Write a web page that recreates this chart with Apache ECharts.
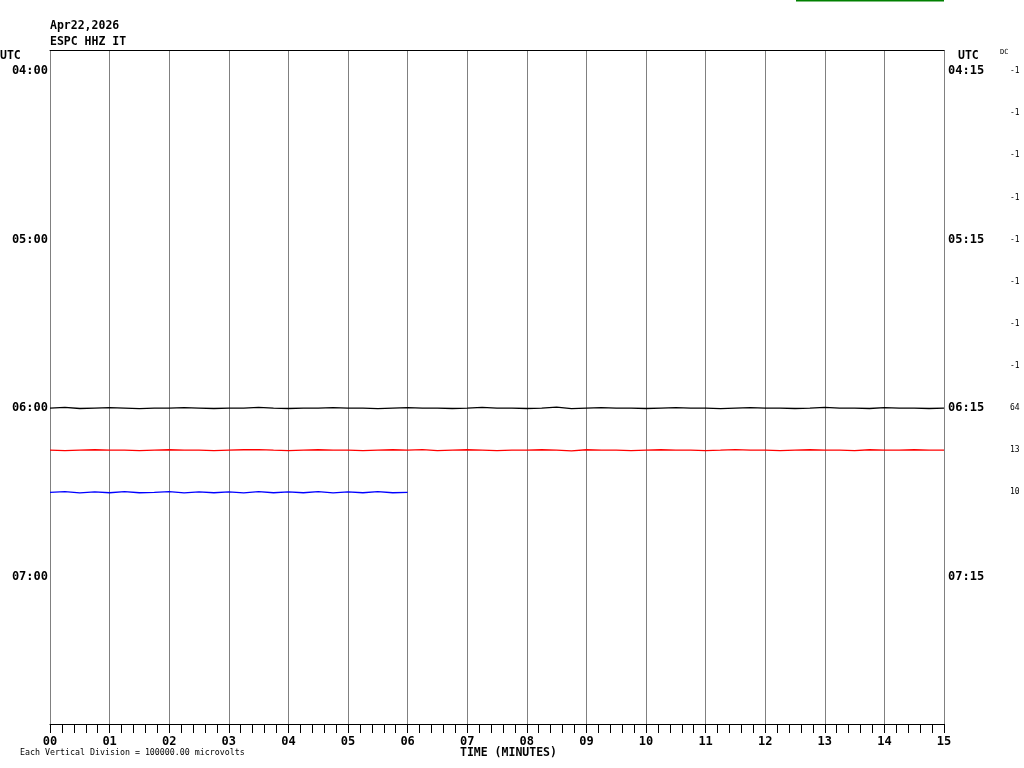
<!DOCTYPE html>
<html>
<head>
<meta charset="utf-8">
<script src="https://cdn.jsdelivr.net/npm/echarts@6/dist/echarts.min.js"></script>
<style>
html,body{margin:0;padding:0;background:#fff;}
#chart{width:1024px;height:768px;}
</style>
</head>
<body>
<div id="chart"></div>
<script>
// ---- data ----
var stationDate = 'Apr22,2026';
var stationName = 'ESPC HHZ IT';
var minuteLabels = ['00','01','02','03','04','05','06','07','08','09','10','11','12','13','14','15'];
var leftRowLabels  = ['04:00','','','','05:00','','','','06:00','','','','07:00','','',''];
var rightRowLabels = ['04:15','','','','05:15','','','','06:15','','','','07:15','','',''];
var dcLabels = ['-1','-1','-1','-1','-1','-1','-1','-1','64','13','10','','','','',''];
var microvoltsPerDivision = 100000;
var sampleStepMinutes = 0.25;
// trace amplitudes (microvolts), one sample every 15 s
var traceRow06_00 = [
  0,1500,-1000,0, 1000,0,-1500,0, 0,1000,0,-1000, 0,0,1500,0,
  -1000,0,0,1000, 0,0,-1500,0, 1000,0,0,-1000, 0,1500,0,0,
  -1000,0,2000,-1500, 0,1000,0,0, -1000,0,1000,0, 0,-1500,0,1000,
  0,0,-1000,0, 1500,0,0,-1000, 1000,0,0,-1000, 0
];
var traceRow06_15 = [
  0,-1000,0,1000, 0,0,-1000,0, 1000,0,0,-1000, 0,1000,1500,0,
  -1000,0,1000,0, 0,-1000,0,1000, 0,1500,-1000,0, 1000,0,-1000,0,
  0,1000,0,-1500, 1000,0,0,-1000, 0,1000,0,0, -1000,0,1500,0,
  0,-1000,0,1000, 0,0,-1000,1000, 0,0,1000,0, 0
];
var traceRow06_30 = [
  0,1500,-1500,1000, -1000,1500,-1000,0, 1500,-1500,1000,-1000,
  1000,-1500,1500,-1000, 1000,-1000,1500,-1500, 1000,-1000,1500,-1000, 0
];
var traces = [
  {row: 8,  color: '#000000', values: traceRow06_00},
  {row: 9,  color: '#ff0000', values: traceRow06_15},
  {row: 10, color: '#0000ff', values: traceRow06_30}
];

var chart = echarts.init(document.getElementById('chart'), null, {renderer: 'canvas'});

var labelFont = {fontFamily: 'DejaVu Sans Mono', fontWeight: 'bold', fontSize: 12, color: '#000'};

var series = traces.map(function (tr) {
  return {
    type: 'line',
    xAxisIndex: 0,
    yAxisIndex: 3,
    showSymbol: false,
    symbol: 'none',
    silent: true,
    animation: false,
    lineStyle: {color: tr.color, width: 1.3},
    data: tr.values.map(function (v, i) {
      return [i * sampleStepMinutes, tr.row - v / microvoltsPerDivision];
    })
  };
});

chart.setOption({
  animation: false,
  backgroundColor: '#fff',
  grid: {left: 50, right: 80, top: 50, bottom: 44, containLabel: false},
  xAxis: [
    {
      type: 'value', min: 0, max: 15, interval: 1, position: 'bottom',
      axisLine: {show: true, onZero: false, lineStyle: {color: '#000', width: 1}},
      axisTick: {show: true, length: 9, lineStyle: {color: '#000', width: 1}},
      minorTick: {show: true, splitNumber: 5, length: 9, lineStyle: {color: '#000', width: 1}},
      splitLine: {show: true, lineStyle: {color: '#808080', width: 1}},
      minorSplitLine: {show: false},
      axisLabel: Object.assign({margin: 12, formatter: function (v) { return minuteLabels[Math.round(v)]; }}, labelFont)
    },
    {
      type: 'value', min: 0, max: 15, position: 'top',
      axisLine: {show: true, onZero: false, lineStyle: {color: '#000', width: 1}},
      axisTick: {show: false}, axisLabel: {show: false}, splitLine: {show: false}
    }
  ],
  yAxis: [
    {
      type: 'category', inverse: true, position: 'left', data: leftRowLabels,
      axisLine: {show: false, onZero: false}, axisTick: {show: false}, splitLine: {show: false},
      axisLabel: Object.assign({interval: 0, margin: 2, padding: [4, 0, 0, 0]}, labelFont)
    },
    {
      type: 'category', inverse: true, position: 'right', data: rightRowLabels,
      axisLine: {show: false, onZero: false}, axisTick: {show: false}, splitLine: {show: false},
      axisLabel: Object.assign({interval: 0, margin: 4, padding: [4, 0, 0, 0]}, labelFont)
    },
    {
      type: 'category', inverse: true, position: 'right', offset: 62, data: dcLabels,
      axisLine: {show: false, onZero: false}, axisTick: {show: false}, splitLine: {show: false},
      axisLabel: {interval: 0, margin: 4, padding: [3, 0, 0, 0], fontFamily: 'DejaVu Sans Mono', fontSize: 8, color: '#000'}
    },
    {
      type: 'value', inverse: true, min: -0.5, max: 15.5, show: false,
      axisLine: {onZero: false},
      splitLine: {show: false}
    }
  ],
  graphic: [
    {type: 'text', left: 50, top: 20, style: {text: stationDate, font: 'bold 11.5px "DejaVu Sans Mono"', fill: '#000'}},
    {type: 'text', left: 50, top: 36, style: {text: stationName, font: 'bold 11.5px "DejaVu Sans Mono"', fill: '#000'}},
    {type: 'text', left: 0, top: 50, style: {text: 'UTC', font: 'bold 11.5px "DejaVu Sans Mono"', fill: '#000'}},
    {type: 'text', left: 958, top: 50, style: {text: 'UTC', font: 'bold 11.5px "DejaVu Sans Mono"', fill: '#000'}},
    {type: 'text', left: 1000, top: 49, style: {text: 'DC', font: '7px "DejaVu Sans Mono"', fill: '#000'}},
    {type: 'text', left: 460, top: 747, style: {text: 'TIME (MINUTES)', font: 'bold 11.5px "DejaVu Sans Mono"', fill: '#000'}},
    {type: 'text', left: 20, top: 749, style: {text: 'Each Vertical Division = 100000.00 microvolts', font: '8.3px "DejaVu Sans Mono"', fill: '#000'}},
    {type: 'line', shape: {x1: 796, y1: 0.5, x2: 944, y2: 0.5}, style: {stroke: '#008000', lineWidth: 2}}
  ],
  series: series
});
</script>
</body>
</html>
